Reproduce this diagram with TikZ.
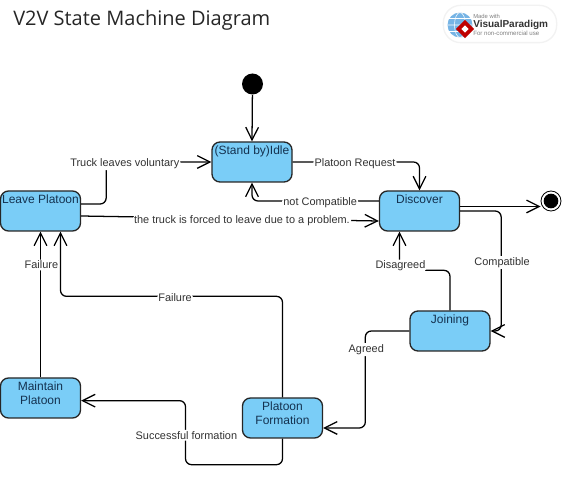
\documentclass[tikz,border=0pt]{standalone}
\usepackage{fontspec}
\setmainfont{Liberation Sans}
\newfontfamily\titlefont{Open Sans}
\usetikzlibrary{arrows.meta}
\definecolor{statefill}{RGB}{122,205,247}
\definecolor{statetext}{RGB}{20,50,80}
\definecolor{edgetext}{RGB}{50,50,50}
\tikzset{
  state/.style={draw=black!85,line width=1pt,rounded corners=6pt,fill=statefill,minimum width=60pt,minimum height=30pt,inner sep=0pt},
  statename/.style={anchor=north,align=center,text=statetext,font=\fontsize{9}{10.3}\selectfont,inner sep=0pt,yshift=-3pt},
  trans/.style={-{Straight Barb[length=9.5pt,width=9.5pt]},line width=.95pt,rounded corners=4.5pt},
  lbl/.style={fill=white,text=edgetext,font=\fontsize{8.2}{10}\selectfont,inner sep=1pt,xshift=.7pt,yshift=-1.2pt}
}
\begin{document}
\begin{tikzpicture}[x=.75pt,y=-.75pt]
    \useasboundingbox (0,0) rectangle (562,478);
    \node[anchor=west,text=black!85,font=\titlefont\fontsize{15}{18}\selectfont,inner sep=0pt] (title) at (13,20) {V2V State Machine Diagram};
    % logo
    \node[fill=white,draw=black!5,line width=1pt,rounded corners=13pt,minimum width=85pt,minimum height=28pt,inner sep=0pt] (logo) at (500,24) {};
    \fill[cyan!70!blue!55] (460,25) circle[radius=12.5];
    \draw[white,line width=.4pt] (460,25) ellipse[x radius=5.5,y radius=12.5] (447.5,25) -- (472.5,25) (449,18.5) -- (471,18.5) (449,31.5) -- (471,31.5);
    \fill[red!75!black,rotate around={45:(465,29)}] (458.5,22.5) rectangle (471.5,35.5);
    \fill[white,rotate around={45:(465,29)}] (462.5,26.5) rectangle (467.5,31.5);
    \node[anchor=west,text=black!50,font=\fontsize{4.4}{5}\selectfont,inner sep=0pt] (made) at (473,16) {Made with};
    \node[anchor=west,text=black!80,font=\bfseries\fontsize{7.5}{8}\selectfont,inner sep=0pt] (brand) at (473,24.5) {VisualParadigm};
    \node[anchor=west,text=black!50,font=\fontsize{4.6}{5}\selectfont,inner sep=0pt] (free) at (473,33) {For non-commercial use};
    % states
    \node[state,label={[statename]north:(Stand by)Idle}] (idle) at (252,162) {};
    \node[state,label={[statename]north:Discover}] (discover) at (419.5,211) {};
    \node[state,label={[statename]north:Leave Platoon}] (leave) at (40.5,211) {};
    \node[state,label={[statename]north:Joining}] (joining) at (450,331) {};
    \node[state,label={[statename]north:Maintain\\Platoon}] (maintain) at (40.5,398) {};
    \node[state,label={[statename]north:Platoon\\Formation}] (formation) at (282.5,418) {};
    \node[circle,fill=black,minimum size=15.75pt,inner sep=0pt] (start) at (252.5,84) {};
    \node[circle,draw=black,fill=white,line width=.6pt,minimum size=15pt,inner sep=0pt] (stop) at (551,201) {};
    \node[circle,fill=black,minimum size=11pt,inner sep=0pt] (stopdot) at (551,201) {};
    % transitions
    \draw[trans] (start) -- (idle.north);
    \draw[trans] (idle.east) -| node[pos=.242,lbl]{Platoon Request} (discover.north);
    \draw[trans] ([yshift=7.5pt]discover.west) -| node[pos=.235,lbl]{not Compatible} (idle.south);
    \draw[trans] ([yshift=3.4pt]discover.east) -- ([yshift=-4.1pt]stop.west);
    \draw[trans] (discover.east) -- ++(41,0) |- node[pos=.208,lbl]{Compatible} (joining.east);
    \draw[trans] (joining.north) -- ++(0,-40) -| node[pos=.575,lbl]{Disagreed} ([xshift=-15pt]discover.south);
    \draw[trans] (joining.west) -- ++(-44,0) |- node[pos=.088,lbl]{Agreed} ([yshift=-7.5pt]formation.east);
    \draw[trans] (formation.north) -- ++(0,-101) -| node[pos=.244,lbl]{Failure} ([xshift=15pt]leave.south);
    \draw[trans] (formation.south) -- ++(0,26) -- ++(-97,0) |- node[pos=.242,lbl]{Successful formation} ([yshift=-2pt]maintain.east);
    \draw[trans] (maintain.north) -- node[pos=.782,lbl]{Failure} (leave.south);
    \draw[trans] ([yshift=5.25pt]leave.east) -- ++(25,0) |- node[pos=.584,lbl]{Truck leaves voluntary} (idle.west);
    \draw[trans] ([yshift=-3.75pt]leave.east) -- node[pos=.537,lbl]{the truck is forced to leave due to a problem.} ([yshift=-7.5pt]discover.west);
\end{tikzpicture}
\end{document}
